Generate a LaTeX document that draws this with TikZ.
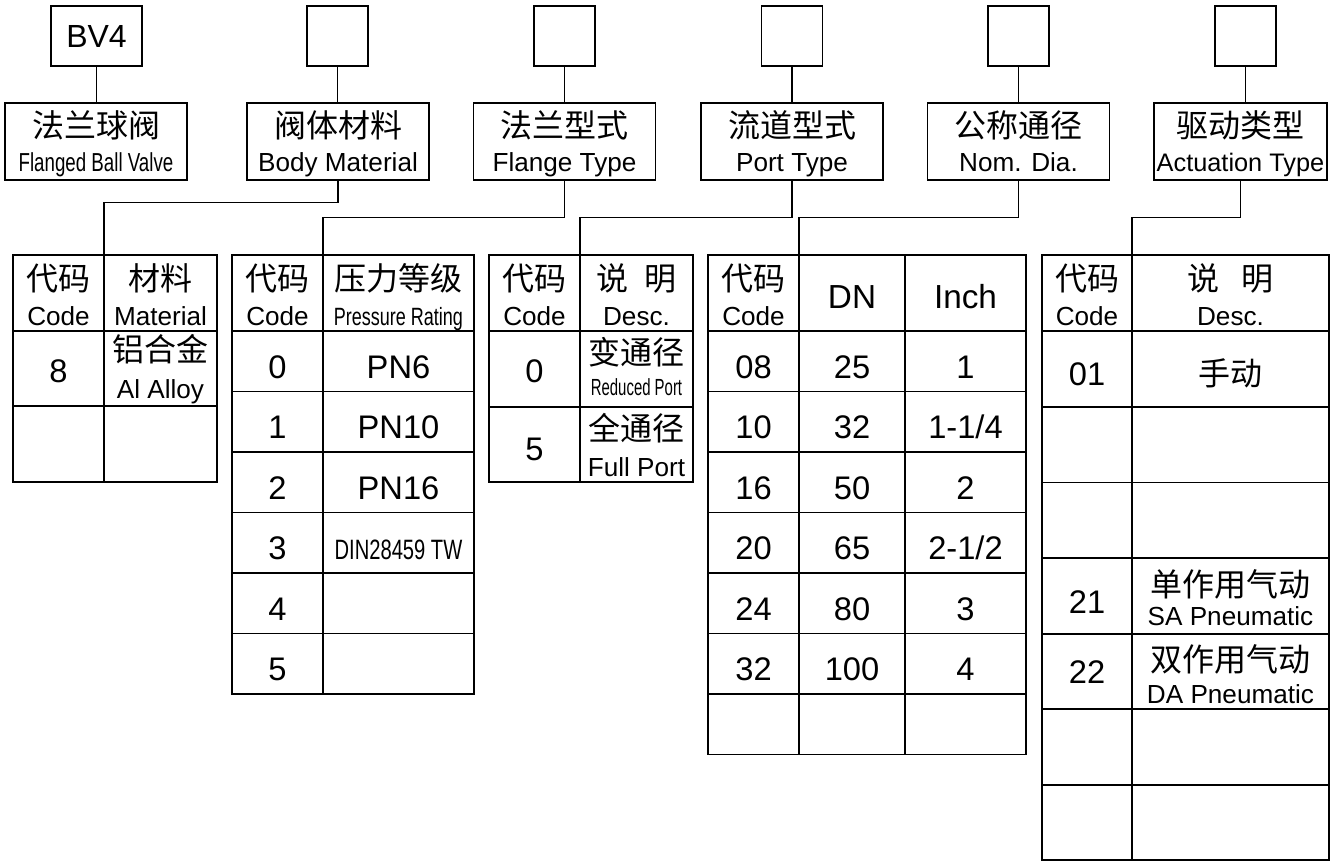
\documentclass[tikz,border=0pt]{standalone}
\usepackage{fontspec}
\setmainfont{Liberation Sans}
\newfontfamily\cjk{Noto Sans CJK SC}
\newfontfamily\narrowsf[FakeStretch=0.72]{Liberation Sans}
\newfontfamily\narrowersf[FakeStretch=0.64]{Liberation Sans}
\usetikzlibrary{positioning}

\begin{document}
\begin{tikzpicture}[x=0.75pt,y=-0.75pt,line width=0.85pt,
 codebox/.style={draw,inner sep=0pt,minimum width=45.75pt,minimum height=45pt},
 labbox/.style={draw,inner sep=0pt,minimum width=136.5pt,minimum height=57.75pt},
 zh/.style={anchor=base,inner sep=0pt,font=\cjk\fontsize{24}{27}\selectfont},
 en/.style={anchor=base,inner sep=0pt,font=\fontsize{19.6}{22}\selectfont},
 num/.style={anchor=base,inner sep=0pt,font=\fontsize{24.5}{28}\selectfont},
 thin/.style={anchor=base,inner sep=0pt,font=\narrowsf\fontsize{19.5}{22}\selectfont},
 thinner/.style={anchor=base,inner sep=0pt,font=\narrowersf\fontsize{17.5}{20}\selectfont}]
 \useasboundingbox (0,0) rectangle (1343,861);

 % code boxes
 \node[codebox,minimum width=68.25pt,font=\fontsize{24}{28}\selectfont]
  (code1) at (96.5,36) {BV4};
 \foreach \n/\x in {2/337.5,3/564.5,4/792,5/1018.5,6/1245.5}
  \node[codebox] (code\n) at (\x,36) {};

 % label boxes
 \foreach \n/\x in {1/96,2/338,3/564.5,4/792,5/1018.5}
  \node[labbox] (lab\n) at (\x,141.5) {};
 \node[labbox,minimum width=129.75pt] (lab6) at (1240.5,141.5) {};
 \foreach \n in {1,...,6}
  \draw (code\n.south) -- (code\n.south |- lab\n.north);

 \node[zh] (lab1zh) at (96,137) {法兰球阀};
 \node[thin] (lab1en) at (96,171) {Flanged Ball Valve};
 \node[zh] (lab2zh) at (338,137) {阀体材料};
 \node[en] (lab2en) at (338,171) {Body Material};
 \node[zh] (lab3zh) at (564.5,137) {法兰型式};
 \node[en] (lab3en) at (564.5,171) {Flange Type};
 \node[zh] (lab4zh) at (792,137) {流道型式};
 \node[en] (lab4en) at (792,171) {Port Type};
 \node[zh] (lab5zh) at (1018.5,137) {公称通径};
 \node[en] (lab5en) at (1018.5,171) {Nom. Dia.};
 \node[zh] (lab6zh) at (1240.5,137) {驱动类型};
 \node[en,font=\fontsize{19}{22}\selectfont] (lab6en) at (1240.5,171)
  {Actuation Type};

 % table tops
 \coordinate (t1) at (104,255);
 \coordinate (t2) at (323,255);
 \coordinate (t3) at (580,255);
 \coordinate (t4) at (799,255);
 \coordinate (t5) at (1132,255);
 \draw (lab2.south) -- ++(0,22) -| (t1);
 \foreach \n [evaluate=\n as \m using int(\n+1)] in {2,...,5}
  \draw (lab\m.south) -- ++(0,37) -| (t\n);

 % material table
 \draw (13,255) rectangle (217,482);
 \draw (t1) -- (104,482);
 \foreach \y in {331,406} \draw (13,\y) -- (217,\y);
 \node[zh] (m1) at (58.5,290) {代码};
 \node[en] (m2) at (58.5,325) {Code};
 \node[zh] (m3) at (160.5,290) {材料};
 \node[en] (m4) at (160.5,325) {Material};
 \node[num] (m5) at (58.5,382) {8};
 \node[zh] (m6) at (160.5,361) {铝合金};
 \node[en] (m7) at (160.5,398) {Al Alloy};

 % pressure table
 \draw (232,255) rectangle (474,694);
 \draw (t2) -- (323,694);
 \foreach \y in {331,391.5,452,512.5,573,633.5} \draw (232,\y) -- (474,\y);
 \node[zh] (p1) at (277.5,290) {代码};
 \node[en] (p2) at (277.5,325) {Code};
 \node[zh] (p3) at (398.5,290) {压力等级};
 \node[thin,font=\narrowsf\fontsize{18.75}{22}\selectfont] (p4) at (398.5,325)
  {Pressure Rating};
 \foreach \c [count=\i from 0] in {0,...,5}
  \node[num] (pc\i) at (277.5,378+60.5*\i) {\c};
 \foreach \v [count=\i from 0] in {PN6,PN10,PN16}
  \node[num] (pv\i) at (398.5,378+60.5*\i) {\v};
 \node[thin,font=\narrowsf\fontsize{21}{24}\selectfont] (pv3) at (398.5,559.5)
  {DIN28459 TW};

 % flange table
 \draw (489,255) rectangle (693,482);
 \draw (t3) -- (580,482);
 \foreach \y in {331,407} \draw (489,\y) -- (693,\y);
 \node[zh] (f1) at (534.5,290) {代码};
 \node[en] (f2) at (534.5,325) {Code};
 \node[zh] (f3) at (636.5,290) {说\hspace{0.5em}明};
 \node[en] (f4) at (636.5,325) {Desc.};
 \node[num] (f5) at (534.5,382) {0};
 \node[zh] (f6) at (636.5,364) {变通径};
 \node[thinner] (f7) at (636.5,395) {Reduced Port};
 \node[num] (f8) at (534.5,460) {5};
 \node[zh] (f9) at (636.5,440) {全通径};
 \node[en] (f10) at (636.5,476) {Full Port};

 % size table
 \draw (708,255) rectangle (1026,754.5);
 \draw (t4) -- (799,754.5);
 \draw (905,255) -- (905,754.5);
 \foreach \y in {331,391.5,452,512.5,573,633.5,694} \draw (708,\y) -- (1026,\y);
 \node[zh] (s1) at (753.5,290) {代码};
 \node[en] (s2) at (753.5,325) {Code};
 \node[num,font=\fontsize{25}{28}\selectfont] (s3) at (852,308) {DN};
 \node[num,font=\fontsize{25}{28}\selectfont] (s4) at (965.5,308) {Inch};
 \foreach \c/\d/\e [count=\i from 0] in {08/25/1,10/32/{1-1/4},16/50/2,
   20/65/{2-1/2},24/80/3,32/100/4}{
  \node[num] (sc\i) at (753.5,378+60.5*\i) {\c};
  \node[num] (sd\i) at (852,378+60.5*\i) {\d};
  \node[num] (se\i) at (965.5,378+60.5*\i) {\e};
 }

 % actuation table
 \draw (1042,255) rectangle (1329,860);
 \draw (t5) -- (1132,860);
 \foreach \y in {331,407,482.5,558,634,709,785} \draw (1042,\y) -- (1329,\y);
 \node[zh] (a1) at (1087,290) {代码};
 \node[en] (a2) at (1087,325) {Code};
 \node[zh] (a3) at (1230.5,290) {说\hspace{0.7em}明};
 \node[en] (a4) at (1230.5,325) {Desc.};
 \node[num] (a5) at (1087,385) {01};
 \node[zh] (a6) at (1230.5,385) {手动};
 \node[num] (a7) at (1087,613) {21};
 \node[zh] (a8) at (1230.5,596) {单作用气动};
 \node[en] (a9) at (1230.5,625) {SA Pneumatic};
 \node[num] (a10) at (1087,683) {22};
 \node[zh] (a11) at (1230.5,671) {双作用气动};
 \node[en] (a12) at (1230.5,703) {DA Pneumatic};
\end{tikzpicture}
\end{document}
